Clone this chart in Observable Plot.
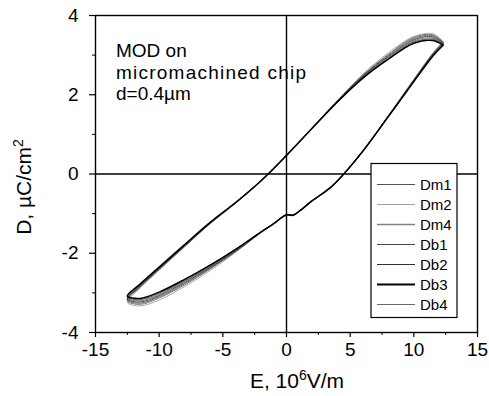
<!DOCTYPE html>
<html><head><meta charset="utf-8">
<script src="https://cdn.jsdelivr.net/npm/d3@7"></script>
<script src="https://cdn.jsdelivr.net/npm/@observablehq/plot@0.6"></script>
<style>
body{margin:0;background:#fff;}
#chart{width:489px;height:396px;}
svg text{font-family:"Liberation Sans",Arial,sans-serif;}
</style></head><body><div id="chart"></div>
<script>
// Loop path: upper branch (E decreasing from right tip) then lower branch (E increasing)
const E = [12.3, 11.5, 10, 8, 6, 4, 2, 0, -2, -4, -6, -8, -10, -11.5, -12.5,
           -11.5, -10, -8, -6, -4, -2, -1, 0, 0.5, 1, 2, 3.5, 4.5, 6, 8, 10, 11.5, 12.3];

const Dm1 = [3.31, 3.49, 3.42, 3.00, 2.48, 1.84, 1.16, 0.47, -0.17, -0.73, -1.24, -1.82, -2.40, -2.84, -3.18,
             -3.26, -3.10, -2.77, -2.38, -1.95, -1.47, -1.25, -1.03, -1.04, -0.94, -0.68, -0.33, 0.00, 0.58, 1.46, 2.37, 3.03, 3.31];
const Dm2 = [3.35, 3.54, 3.47, 3.06, 2.52, 1.86, 1.15, 0.46, -0.18, -0.74, -1.26, -1.84, -2.43, -2.88, -3.24,
             -3.33, -3.18, -2.84, -2.44, -1.98, -1.48, -1.26, -1.04, -1.05, -0.95, -0.69, -0.34, -0.01, 0.57, 1.47, 2.39, 3.06, 3.35];
const Dm4 = [3.28, 3.43, 3.36, 2.95, 2.45, 1.83, 1.16, 0.48, -0.17, -0.73, -1.23, -1.80, -2.37, -2.81, -3.13,
             -3.20, -3.04, -2.71, -2.34, -1.92, -1.47, -1.25, -1.02, -1.03, -0.93, -0.67, -0.32, 0.01, 0.58, 1.46, 2.35, 3.00, 3.28];
const Db1 = [3.27, 3.40, 3.33, 2.92, 2.44, 1.83, 1.15, 0.47, -0.17, -0.72, -1.23, -1.79, -2.36, -2.80, -3.10,
             -3.17, -3.01, -2.69, -2.32, -1.91, -1.46, -1.25, -1.03, -1.04, -0.94, -0.68, -0.33, 0.00, 0.58, 1.45, 2.34, 2.99, 3.27];
const Db2 = [3.30, 3.46, 3.39, 2.97, 2.47, 1.84, 1.15, 0.46, -0.18, -0.73, -1.24, -1.81, -2.39, -2.83, -3.15,
             -3.23, -3.07, -2.74, -2.36, -1.94, -1.47, -1.26, -1.04, -1.05, -0.95, -0.69, -0.34, -0.01, 0.57, 1.46, 2.36, 3.02, 3.30];
const Db3 = [3.25, 3.37, 3.30, 2.90, 2.42, 1.82, 1.15, 0.47, -0.17, -0.72, -1.22, -1.78, -2.35, -2.78, -3.08,
             -3.14, -2.98, -2.66, -2.30, -1.90, -1.46, -1.25, -1.03, -1.04, -0.94, -0.68, -0.33, 0.00, 0.58, 1.45, 2.33, 2.98, 3.25];
const Db4 = [3.33, 3.51, 3.45, 3.02, 2.50, 1.85, 1.16, 0.47, -0.17, -0.74, -1.25, -1.83, -2.41, -2.86, -3.20,
             -3.29, -3.13, -2.80, -2.40, -1.96, -1.48, -1.25, -1.03, -1.04, -0.94, -0.68, -0.33, 0.00, 0.58, 1.47, 2.38, 3.04, 3.33];

const seriesNames = ["Dm1", "Dm2", "Dm4", "Db1", "Db2", "Db3", "Db4"];
const seriesValues = [Dm1, Dm2, Dm4, Db1, Db2, Db3, Db4];
const seriesColors = ["#555555", "#a0a0a0", "#808080", "#444444", "#333333", "#000000", "#6a6a6a"];
const seriesWidths = [0.9, 0.9, 1.1, 0.9, 0.9, 1.5, 0.9];

const xTicks = [-15, -10, -5, 0, 5, 10, 15];
const xMinor = [-12.5, -7.5, -2.5, 2.5, 7.5, 12.5];
const yTicks = [-4, -2, 0, 2, 4];
const yMinor = [-3, -1, 1, 3];

const annotationLines = ["MOD on", "micromachined chip", "d=0.4\u00b5m"];

const rows = [];
seriesNames.forEach((name, i) => {
  seriesValues[i].forEach((d, j) => rows.push({series: name, E: E[j], D: d}));
});

const font = "'Liberation Sans', Arial, sans-serif";
const hyphenFmt = d => (d < 0 ? "-" + (-d) : String(d));

const lineMarks = seriesNames.map((name, i) =>
  Plot.line(rows.filter(r => r.series === name), {
    x: "E", y: "D", stroke: seriesColors[i], strokeWidth: seriesWidths[i], curve: "catmull-rom"
  })
);
// draw the thick black series last
const order = [1, 6, 2, 0, 3, 4, 5];

const chart = Plot.plot({
  width: 489, height: 396,
  marginLeft: 95, marginRight: 12, marginTop: 15, marginBottom: 64,
  style: {fontFamily: font, background: "#fff", color: "#000", overflow: "visible"},
  x: {domain: [-15, 15]},
  y: {domain: [-4, 4]},
  marks: [
    ...order.map(i => lineMarks[i]),
    Plot.ruleY([0], {stroke: "#000", strokeWidth: 1.6}),
    Plot.ruleX([0], {stroke: "#000", strokeWidth: 1.4}),
    Plot.frame({stroke: "#000", strokeWidth: 1.4}),
    Plot.axisX({ticks: xTicks, tickSize: 5, tickPadding: 5, fontSize: 19, label: null, strokeWidth: 1.2, tickFormat: hyphenFmt}),
    Plot.axisX({ticks: xMinor, tickSize: 3, text: null, label: null}),
    Plot.axisY({ticks: yTicks, tickSize: 6, tickPadding: 11, fontSize: 19, label: null, strokeWidth: 1.2, tickFormat: hyphenFmt}),
    Plot.axisY({ticks: yMinor, tickSize: 3, text: null, label: null})
  ]
});
document.getElementById("chart").appendChild(chart);

const svg = d3.select(chart);

// annotation
const ann = svg.append("g").attr("font-size", 19).attr("fill", "#000").attr("text-anchor", "start");
const annBase = [57, 79, 100];
annotationLines.forEach((t, i) => {
  const tx = ann.append("text").attr("x", 116).attr("y", annBase[i]).text(t);
  if (i === 1) tx.attr("textLength", 190).attr("lengthAdjust", "spacing");
});

// axis titles
const xl = svg.append("text").attr("x", 297).attr("y", 388).attr("text-anchor", "middle")
  .attr("font-size", 21).attr("fill", "#000");
xl.append("tspan").text("E, 10");
xl.append("tspan").attr("font-size", 14).attr("dy", -8).text("6");
xl.append("tspan").attr("dy", 8).text("V/m");

const yl = svg.append("text").attr("transform", "translate(31,187) rotate(-90)")
  .attr("text-anchor", "middle").attr("font-size", 21).attr("fill", "#000");
yl.append("tspan").text("D, \u00b5C/cm");
yl.append("tspan").attr("font-size", 14).attr("dy", -8).text("2");

// legend
const lg = svg.append("g").attr("text-anchor", "start");
lg.append("rect").attr("x", 371).attr("y", 163.5).attr("width", 86).attr("height", 154)
  .attr("fill", "#fff").attr("stroke", "#000").attr("stroke-width", 1.2);
seriesNames.forEach((name, i) => {
  const y = 184.5 + i * 20;
  lg.append("line").attr("x1", 377).attr("x2", 415).attr("y1", y).attr("y2", y)
    .attr("stroke", seriesColors[i]).attr("stroke-width", seriesWidths[i] + 0.3);
  lg.append("text").attr("x", 420).attr("y", y).attr("dy", "0.36em")
    .attr("font-size", 15).attr("fill", "#000").text(name);
});
</script>
</body></html>
